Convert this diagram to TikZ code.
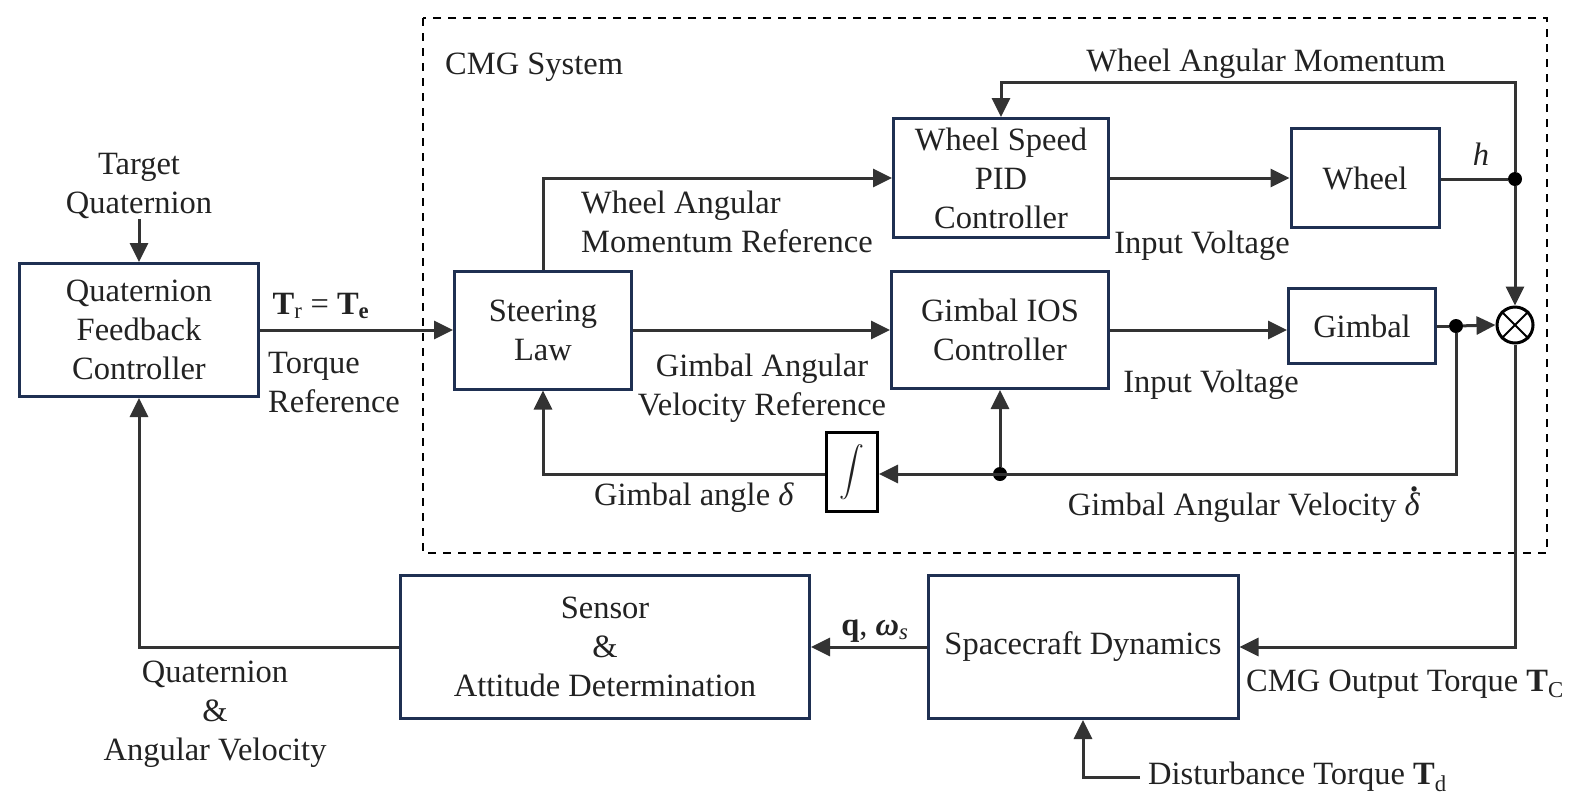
\documentclass[tikz,border=0pt]{standalone}
\usepackage{amsmath}
\usepackage{fontspec}
\setmainfont{Liberation Serif}
\usetikzlibrary{arrows.meta, positioning, calc}

\definecolor{boxblue}{HTML}{1F3052}
\definecolor{wire}{HTML}{333333}
\definecolor{ink}{HTML}{222222}

% dotted delta (time derivative)
\newcommand{\ddelta}{\textit{δ}\llap{\raisebox{0.74em}{\textbf{.}}\hspace{0.06em}}}

\begin{document}
\begin{tikzpicture}[x=1pt, y=-1pt,
  font=\fontsize{32.5}{39}\selectfont, text=ink,
  block/.style={rectangle, draw=boxblue, line width=3pt, fill=white, align=center, inner sep=0pt},
  lbl/.style={align=center, inner sep=0pt},
  wireline/.style={draw=wire, line width=3pt},
  arr/.style={wireline, -{Triangle[length=19pt, width=18pt]}},
  jdot/.style={circle, fill=black, minimum size=14pt, inner sep=0pt}]

\useasboundingbox (0,0) rectangle (1584,807);

% CMG System frame
\draw[line width=2pt, dash pattern=on 8pt off 7pt] (423,18) rectangle (1547,553);
\node[lbl, anchor=west] (cmg) at (445,67) {CMG System};

% Blocks
\node[block, minimum width=239pt, minimum height=133pt] (qfc) at (139,330) {Quaternion\\Feedback\\Controller};
\node[block, minimum width=177pt, minimum height=118pt] (steer) at (543,330) {Steering\\Law};
\node[block, minimum width=215pt, minimum height=119pt] (pid) at (1001,178) {Wheel Speed\\PID\\Controller};
\node[block, minimum width=217pt, minimum height=117pt] (ios) at (1000,330) {Gimbal IOS\\Controller};
\node[block, minimum width=148pt, minimum height=99pt] (wheel) at (1365,178) {Wheel};
\node[block, minimum width=147pt, minimum height=75pt] (gimbal) at (1362,326) {Gimbal};
\node[rectangle, draw=black, line width=3pt, minimum width=51pt, minimum height=79pt, inner sep=0pt] (integ) at (852,472) {\fontsize{36}{36}\selectfont$\displaystyle\int$};
\node[circle, draw=black, line width=3pt, minimum size=36pt, inner sep=0pt] (mult) at (1515,325) {};
\draw[black, line width=2pt] (mult.135) -- (mult.-45) (mult.45) -- (mult.-135);
\node[block, minimum width=409pt, minimum height=143pt] (sens) at (605,647) {Sensor\\\&\\Attitude Determination};
\node[block, minimum width=310pt, minimum height=143pt] (dyn) at (1083,647) {Spacecraft Dynamics};

% Junctions and corners
\node[jdot] (hdot) at (1515,179) {};
\node[jdot] (gdot) at (1456,326) {};
\node[jdot] (fdot) at (1000,474) {};
\coordinate (top) at (1515,82);
\coordinate (fb) at (139,647);

% Inputs
\node[lbl] (tq) at (139,186) {Target\\Quaternion};
\node[lbl, anchor=west, inner xsep=8pt] (dist) at (1140,777) {Disturbance Torque \textbf{T}\textsubscript{d}};

% Signal labels
\node[lbl] (tr) at (321,306) {\textbf{T}\textsubscript{r} = \textbf{T}\textsubscript{\textbf{e}}};
\node[lbl, align=left, anchor=west] (tref) at (268,383) {Torque\\Reference};
\node[lbl, align=left, anchor=west] (wref) at (581,222) {Wheel Angular\\Momentum Reference};
\node[lbl] (gref) at (762,388) {Gimbal Angular\\Velocity Reference};
\node[lbl] (iv1) at (1202,246) {Input Voltage};
\node[lbl] (iv2) at (1211,385) {Input Voltage};
\node[lbl] (wam) at (1266,64) {Wheel Angular Momentum};
\node[lbl] (hlbl) at (1481,154) {\textit{h}};
\node[lbl] (gang) at (694,498) {Gimbal angle \textit{δ}};
\node[lbl] (gvel) at (1244,505) {Gimbal Angular Velocity \ddelta};
\node[lbl] (qw) at (875,631) {\textbf{q}, \textbf{\textit{ω}}\textsubscript{\textit{s}}};
\node[lbl, anchor=west] (tc) at (1246,684) {CMG Output Torque \textbf{T}\textsubscript{C}};
\node[lbl] (qav) at (215,714) {Quaternion\\\&\\Angular Velocity};

% Connectors
\draw[arr] (tq.south) -- (qfc.north);
\draw[arr] (qfc.east) -- (steer.west);
\draw[arr] (steer.north) |- (pid.west);
\draw[arr] (steer.east) -- (ios.west);
\draw[arr] (pid.east) -- (wheel.west);
\draw[arr] (ios.east) -- (ios.east -| gimbal.west);
\draw[wireline] (wheel.east |- hdot) -- (hdot);
\draw[arr] (hdot) -- (top) -| (pid.north);
\draw[arr] (hdot) -- (mult.north);
\draw[wireline] (gimbal.east) -- (gdot);
\draw[arr] (gdot) -- (mult.west);
\draw[arr] (gdot) |- (integ.east |- fdot);
\draw[arr] (fdot) -- (ios.south);
\draw[arr] (integ.west |- fdot) -| (steer.south);
\draw[arr] (mult.south) |- (dyn.east);
\draw[arr] (dyn.west) -- (sens.east);
\draw[arr] (sens.west) -- (fb) -- (fb |- qfc.south);
\draw[arr] (dist.west) -| (dyn.south);

\end{tikzpicture}
\end{document}
